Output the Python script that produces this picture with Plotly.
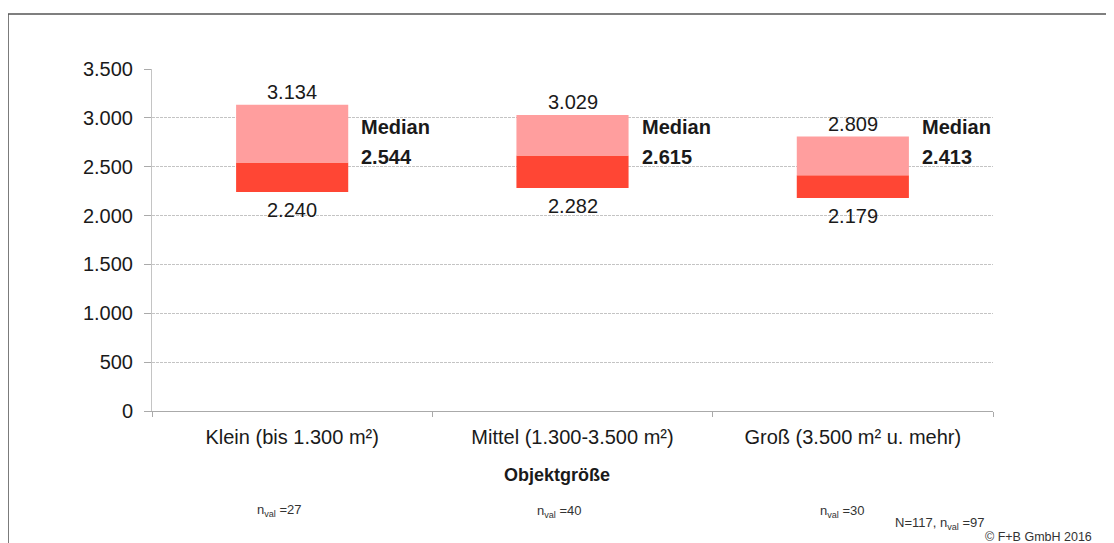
import plotly.graph_objects as go

categories = ["Klein (bis 1.300 m²)", "Mittel (1.300-3.500 m²)", "Groß (3.500 m² u. mehr)"]
mins = [2240, 2282, 2179]
medians = [2544, 2615, 2413]
maxs = [3134, 3029, 2809]
n_val = [27, 40, 30]
n_total = 117
y_ticks = [0, 500, 1000, 1500, 2000, 2500, 3000, 3500]

FONT = "Liberation Sans, Arial, sans-serif"
TEXT = "#1a1a1a"
LIGHT = "#FF9E9E"
DARK = "#FF4634"


def de(v):
    return f"{v:,}".replace(",", ".")


fig = go.Figure()
fig.add_trace(go.Bar(
    x=categories, y=[m - lo for m, lo in zip(medians, mins)], base=mins,
    marker=dict(color=DARK, line_width=0), width=0.4, hoverinfo="skip",
))
fig.add_trace(go.Bar(
    x=categories, y=[hi - m for hi, m in zip(maxs, medians)], base=medians,
    marker=dict(color=LIGHT, line_width=0), width=0.4, hoverinfo="skip",
))

annotations = []
for cat, lo, med, hi in zip(categories, mins, medians, maxs):
    annotations.append(dict(x=cat, y=hi, text=de(hi), showarrow=False,
                            yanchor="bottom", yshift=0,
                            font=dict(size=20, color=TEXT)))
    annotations.append(dict(x=cat, y=lo, text=de(lo), showarrow=False,
                            yanchor="top", yshift=-5,
                            font=dict(size=20, color=TEXT)))
    annotations.append(dict(x=cat, y=2910, text="<b>Median</b>", showarrow=False,
                            xanchor="left", xshift=67,
                            font=dict(size=20, color=TEXT)))
    annotations.append(dict(x=cat, y=2600, text=f"<b>{de(med)}</b>", showarrow=False,
                            xanchor="left", xshift=67,
                            font=dict(size=20, color=TEXT)))

annotations.append(dict(xref="paper", yref="paper", x=0.4816, y=-0.187,
                        yanchor="middle",
                        text="<b>Objektgröße</b>", showarrow=False,
                        font=dict(size=18, color=TEXT)))

small = dict(size=13, color="#333333")
n_pos = [(0.1225, -0.2895), (0.4554, -0.2953), (0.7919, -0.2924)]
for (px, py), n in zip(n_pos, n_val):
    annotations.append(dict(xref="paper", yref="paper", x=px, y=py,
                            xanchor="left", yanchor="middle",
                            text=f"n<sub>val</sub> ={n}", showarrow=False, font=small))
annotations.append(dict(xref="paper", yref="paper", x=0.881, y=-0.3275,
                        xanchor="left", yanchor="middle",
                        text=f"N={n_total}, n<sub>val</sub> ={sum(n_val)}",
                        showarrow=False, font=small))
annotations.append(dict(xref="paper", yref="paper", x=0.988, y=-0.3684,
                        xanchor="left", yanchor="middle",
                        text="© F+B GmbH 2016", showarrow=False,
                        font=dict(size=12.5, color="#333333")))

fig.update_layout(
    width=1114, height=543,
    margin=dict(l=144, r=129, t=61, b=140),
    paper_bgcolor="white", plot_bgcolor="white",
    barmode="overlay", showlegend=False,
    separators=",.",
    font=dict(family=FONT, color=TEXT),
    annotations=annotations,
    shapes=[dict(type="rect", xref="paper", yref="paper",
                 x0=-0.1712, x1=1.2, y0=-0.5, y1=1.1608,
                 line=dict(color="#555555", width=1.5), layer="below")],
)
fig.update_xaxes(
    showgrid=False, showline=True, linecolor="#AAAAAA", linewidth=1,
    ticks="outside", tickson="boundaries", ticklen=5, tickcolor="#AAAAAA",
    tickfont=dict(size=20, color=TEXT), ticklabelstandoff=8,
)
fig.update_yaxes(
    range=[0, 3500], tickvals=y_ticks, tickformat=",d",
    showgrid=True, gridcolor="#C4C4C4", griddash="3px,1px", gridwidth=1,
    showline=True, linecolor="#C4C4C4", linewidth=1,
    ticks="outside", ticklen=7, tickcolor="#AAAAAA",
    tickfont=dict(size=20, color=TEXT), zeroline=False, ticklabelstandoff=7,
)

fig.write_html("out.html")
